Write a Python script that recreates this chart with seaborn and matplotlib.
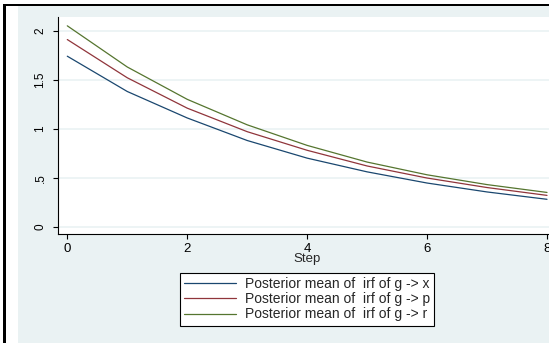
import matplotlib
matplotlib.use("Agg")
import matplotlib.pyplot as plt
from matplotlib.patches import Rectangle
from matplotlib.lines import Line2D
import numpy as np
import pandas as pd
import seaborn as sns

# Impulse responses by step
steps = [0, 1, 2, 3, 4, 5, 6, 7, 8]
irf_x = [1.74, 1.38, 1.11, 0.88, 0.70, 0.56, 0.446, 0.355, 0.28]
irf_p = [1.91, 1.52, 1.21, 0.97, 0.78, 0.62, 0.497, 0.40, 0.32]
irf_r = [2.05, 1.63, 1.30, 1.04, 0.83, 0.66, 0.53, 0.43, 0.35]
series_labels = [
    "Posterior mean of  irf of g -> x",
    "Posterior mean of  irf of g -> p",
    "Posterior mean of  irf of g -> r",
]
y_ticks = [0, 0.5, 1, 1.5, 2]
y_ticklabels = ["0", ".5", "1", "1.5", "2"]
x_ticks = [0, 2, 4, 6, 8]

df = pd.concat([
    pd.DataFrame({"Step": steps, "value": vals, "series": lab})
    for vals, lab in zip([irf_x, irf_p, irf_r], series_labels)
])

sns.set_theme(style="white")
plt.rcParams["font.family"] = ["Liberation Sans", "DejaVu Sans"]

W, H = 549, 343
fig = plt.figure(figsize=(W / 100, H / 100), dpi=100, facecolor="white")

bg = "#EAF2F3"
# graph region background and outer frame
fig.patches.append(Rectangle((18 / W, 0), 1, (H - 6) / H, transform=fig.transFigure,
                             facecolor=bg, edgecolor="none", zorder=-2))
fig.patches.append(Rectangle((3 / W, 0), 3 / W, (H - 4) / H, transform=fig.transFigure,
                             facecolor="black", edgecolor="none", zorder=-1))
fig.patches.append(Rectangle((3 / W, (H - 6) / H), 1, 2 / H, transform=fig.transFigure,
                             facecolor="black", edgecolor="none", zorder=-1))

left, right = 58, 556
top, bottom = 17, 234
ax = fig.add_axes([left / W, (H - bottom) / H, (right - left) / W, (bottom - top) / H])
ax.set_zorder(2)
ax.set_facecolor("white")

palette = ["#1a476f", "#90353b", "#55752f"]
sns.lineplot(data=df, x="Step", y="value", hue="series", palette=palette,
             linewidth=0.9, ax=ax, legend=False)

ax.set_xlim(-0.155, 8.15)
ax.set_ylim(-0.074, 2.14)
ax.set_xticks(x_ticks)
ax.set_xticklabels([str(t) for t in x_ticks], fontsize=9.5)
ax.set_yticks(y_ticks)
ax.set_yticklabels(y_ticklabels, rotation=90, va="center", fontsize=8.5)
ax.grid(axis="y", color=bg, linewidth=1.2)
ax.grid(axis="x", visible=False)
ax.set_axisbelow(True)

for s in ["top", "right"]:
    ax.spines[s].set_visible(False)
for s in ["left", "bottom"]:
    ax.spines[s].set_color("black")
    ax.spines[s].set_linewidth(0.8)

ax.tick_params(axis="both", which="major", direction="out", length=3.8, width=0.8,
               color="black", labelcolor="black", left=True, bottom=True)
ax.tick_params(axis="y", pad=4.5)
ax.tick_params(axis="x", pad=2.5)
ax.set_xlabel("Step", fontsize=9.5, labelpad=-1)
ax.set_ylabel("")

handles = [Line2D([], [], color=c, linewidth=0.9) for c in palette]
leg = fig.legend(handles, series_labels, loc="center",
                 bbox_to_anchor=(307 / W, 1 - 299.3 / H), fontsize=10,
                 frameon=True, fancybox=False, framealpha=1, edgecolor="black",
                 handlelength=3.75, handletextpad=0.65, labelspacing=0.08,
                 borderpad=0.3, borderaxespad=0)
leg.set_zorder(3)
leg.get_frame().set_linewidth(0.8)

fig.savefig("out.png", dpi=100, facecolor="white")
